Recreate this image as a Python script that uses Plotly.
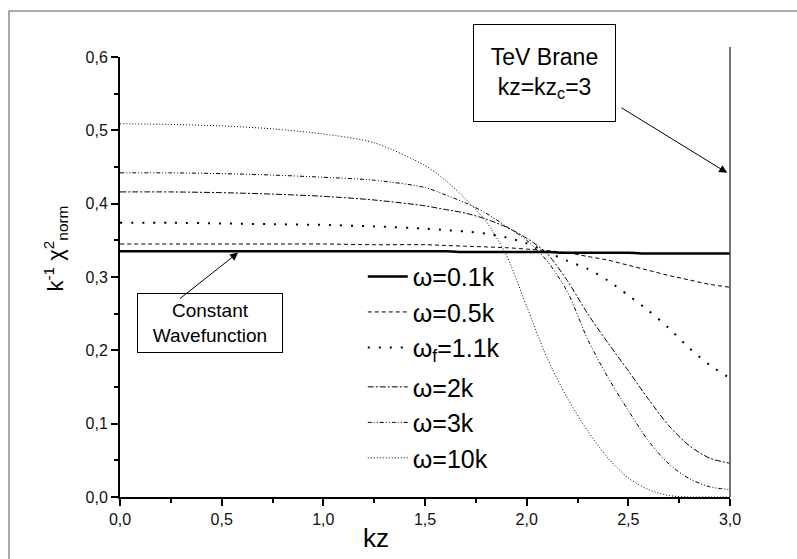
import plotly.graph_objects as go

# ---------------- data ----------------
kz = [0.0, 0.25, 0.5, 0.75, 1.0, 1.25, 1.5, 1.6, 1.7, 1.8, 1.9,
      2.0, 2.1, 2.2, 2.3, 2.4, 2.5, 2.6, 2.7, 2.8, 2.9, 3.0]

w_0p1 = [0.335, 0.335, 0.335, 0.335, 0.335, 0.335, 0.335, 0.335, 0.334, 0.334, 0.334,
         0.334, 0.334, 0.333, 0.333, 0.333, 0.333, 0.332, 0.332, 0.332, 0.332, 0.332]
w_0p5 = [0.345, 0.345, 0.345, 0.345, 0.345, 0.344, 0.344, 0.343, 0.342, 0.341, 0.340,
         0.338, 0.336, 0.333, 0.328, 0.323, 0.316, 0.309, 0.302, 0.296, 0.290, 0.286]
w_1p1 = [0.374, 0.374, 0.373, 0.372, 0.371, 0.369, 0.366, 0.364, 0.362, 0.359, 0.354,
         0.346, 0.334, 0.322, 0.311, 0.295, 0.275, 0.254, 0.230, 0.203, 0.180, 0.162]
w_2 = [0.416, 0.416, 0.415, 0.413, 0.410, 0.405, 0.397, 0.392, 0.387, 0.379, 0.368,
       0.353, 0.332, 0.295, 0.250, 0.210, 0.172, 0.133, 0.097, 0.070, 0.053, 0.046]
w_3 = [0.442, 0.442, 0.441, 0.439, 0.436, 0.432, 0.422, 0.412, 0.401, 0.387, 0.369,
       0.350, 0.322, 0.280, 0.215, 0.163, 0.118, 0.076, 0.045, 0.025, 0.014, 0.010]
w_10 = [0.509, 0.508, 0.506, 0.502, 0.495, 0.483, 0.452, 0.432, 0.406, 0.376, 0.330,
        0.260, 0.190, 0.135, 0.090, 0.053, 0.026, 0.010, 0.002, 0.000, 0.000, 0.000]

OMEGA = "ω"
series_names = [OMEGA + "=0.1k", OMEGA + "=0.5k", OMEGA + "<sub>f</sub>=1.1k",
                OMEGA + "=2k", OMEGA + "=3k", OMEGA + "=10k"]
series_values = [w_0p1, w_0p5, w_1p1, w_2, w_3, w_10]
series_legend = ["legend", "legend", "legend", "legend2", "legend2", "legend2"]

x_ticks = [0.0, 0.5, 1.0, 1.5, 2.0, 2.5, 3.0]
y_ticks = [0.0, 0.1, 0.2, 0.3, 0.4, 0.5, 0.6]

kz_brane = 3.0  # TeV brane position kz_c

# ---------------- styles ----------------
styles = [
    dict(width=2.5, dash="solid"),
    dict(width=1, dash="4px,3px"),
    dict(width=2, dash="2px,9px"),
    dict(width=1, dash="6px,2px,2px,2px"),
    dict(width=1, dash="4px,2px,1px,2px,1px,2px"),
    dict(width=1, dash="1px,2px"),
]

FONT = "Liberation Sans, Arial, sans-serif"

fig = go.Figure()
for name, vals, st, lg in zip(series_names, series_values, styles, series_legend):
    fig.add_trace(go.Scatter(
        x=kz, y=vals, mode="lines", name=name, legend=lg,
        line=dict(color="black", width=st["width"], dash=st["dash"], shape="spline", smoothing=0.8),
    ))

axis_common = dict(
    showline=True, linecolor="black", linewidth=2,
    ticks="outside", ticklen=7, tickwidth=1.5, tickcolor="black",
    showgrid=False, zeroline=False,
    tickfont=dict(family=FONT, size=16, color="#111"),
    tickformat=".1f",
)

legend_common = dict(xanchor="left", yanchor="top", bgcolor="rgba(0,0,0,0)",
                     font=dict(family=FONT, size=25, color="black"),
                     itemwidth=40, tracegroupgap=0)

fig.update_layout(
    width=797, height=559,
    margin=dict(l=120, r=67, t=57, b=62),
    paper_bgcolor="white", plot_bgcolor="white",
    separators=",.",
    font=dict(family=FONT, color="black"),
    showlegend=True,
    legend=dict(x=0.398, y=0.553, **legend_common),
    legend2=dict(x=0.398, y=0.302, **legend_common),
    xaxis=dict(range=[0, 3], tickvals=x_ticks,
               minor=dict(dtick=0.25, ticks="outside", ticklen=4, tickwidth=1.5, tickcolor="black"),
               **axis_common),
    yaxis=dict(range=[0, 0.6], tickvals=y_ticks,
               minor=dict(dtick=0.05, ticks="outside", ticklen=4, tickwidth=1.5, tickcolor="black"),
               **axis_common),
)

# outer frame
fig.add_shape(type="rect", xref="paper", yref="paper",
              x0=-0.182, x1=1.2, y0=-0.3, y1=1.1045,
              line=dict(color="#555", width=1), layer="below")

# TeV brane vertical line
fig.add_shape(type="line", xref="paper", yref="paper",
              x0=1.0, x1=1.0, y0=0, y1=1.023,
              line=dict(color="#444", width=1.5))

# x axis title
fig.add_annotation(xref="x", yref="paper", x=1.26, y=-0.093, yanchor="middle",
                   text="kz", showarrow=False, font=dict(family=FONT, size=26))

# y axis title
fig.add_annotation(xref="paper", yref="paper", x=-0.135, y=0.565,
                   text="k<sup>-1</sup> χ<sup>2</sup><sub>norm</sub>", textangle=-90,
                   showarrow=False, font=dict(family=FONT, size=22))

# Constant wavefunction box + arrow
fig.add_annotation(xref="x", yref="y", x=0.443, y=0.2374,
                   text="Constant<br>Wavefunction", showarrow=False,
                   font=dict(family=FONT, size=19), width=144, height=58,
                   bordercolor="black", borderwidth=1, borderpad=0, bgcolor="white")
fig.add_annotation(xref="x", yref="y", axref="x", ayref="y",
                   x=0.581, y=0.3333, ax=0.287, ay=0.2688, text="",
                   showarrow=True, arrowhead=2, arrowsize=1.6, arrowwidth=1, arrowcolor="black")

# TeV brane box + arrow
fig.add_annotation(xref="x", yref="y", x=2.088, y=0.578,
                   text="TeV Brane<br>kz=kz<sub>c</sub>=3", showarrow=False,
                   font=dict(family=FONT, size=23), width=141, height=96,
                   bordercolor="black", borderwidth=1, borderpad=0, bgcolor="white")
fig.add_annotation(xref="x", yref="y", axref="x", ayref="y",
                   x=2.986, y=0.442, ax=2.459, ay=0.532, text="",
                   showarrow=True, arrowhead=2, arrowsize=1.6, arrowwidth=1, arrowcolor="black")

fig.write_html("out.html")
